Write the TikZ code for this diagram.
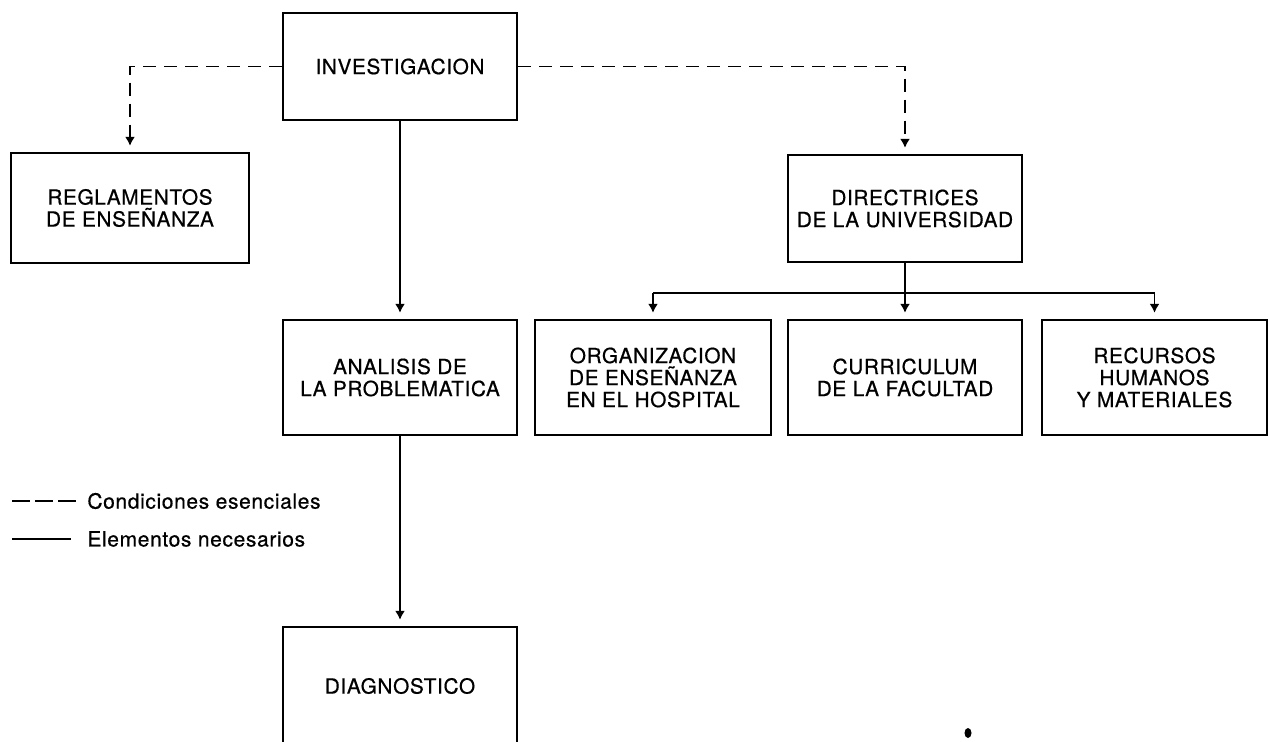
\documentclass[tikz,border=0pt]{standalone}
\usepackage{fontspec}
\setmainfont{TeX Gyre Heros}[LetterSpace=3,FakeBold=0.6]
\usetikzlibrary{arrows.meta}
\begin{document}
\begin{tikzpicture}[x=0.5pt,y=-0.5pt,
  box/.style={draw,line width=1.15pt,inner sep=0pt,align=center,
    font=\fontsize{10.4}{11}\selectfont},
  link/.style={line width=0.95pt},
  solidlink/.style={link,-{Latex[length=4.5pt,width=5pt]},shorten >=3pt},
  dashlink/.style={solidlink,dash pattern=on 6.5pt off 4pt},
  legend/.style={anchor=west,inner sep=0pt,font=\fontsize{10.5}{12}\selectfont}]
\useasboundingbox (0,0) rectangle (1269,742);
\clip (0,0) rectangle (1269,742);

% boxes
\node[box,minimum width=117pt,minimum height=53.5pt] (inv) at (400,66.5) {INVESTIGACION};
\node[box,minimum width=119pt,minimum height=55pt] (reg) at (130,208) {REGLAMENTOS\\DE ENSEÑANZA};
\node[box,minimum width=117pt,minimum height=53.5pt] (dir) at (905,208.5) {DIRECTRICES\\DE LA UNIVERSIDAD};
\node[box,minimum width=117pt,minimum height=57.5pt] (ana) at (400,377.5) {ANALISIS DE\\LA PROBLEMATICA};
\node[box,minimum width=118pt,minimum height=57.5pt] (org) at (653,377.5) {ORGANIZACION\\DE ENSEÑANZA\\EN EL HOSPITAL};
\node[box,minimum width=117pt,minimum height=57.5pt] (cur) at (905,377.5) {CURRICULUM\\DE LA FACULTAD};
\node[box,minimum width=112.5pt,minimum height=57.5pt] (rec) at (1154.5,377.5) {RECURSOS\\HUMANOS\\Y MATERIALES};
\node[box,minimum width=117pt,minimum height=59pt] (diag) at (400,686) {DIAGNOSTICO};

% essential conditions (dashed)
\draw[dashlink] (inv.west) -| (reg.north);
\draw[dashlink] (inv.east) -| (dir.north);

% necessary elements (solid)
\draw[solidlink] (inv.south) -- (ana.north);
\draw[solidlink] (ana.south) -- (diag.north);
\path (dir.south) ++(0,30) coordinate (br);
\draw[solidlink] (dir.south) -- (cur.north);
\draw[link] (br -| org.north) -- (br -| rec.north);
\draw[solidlink] (br -| org.north) -- (org.north);
\draw[solidlink] (br -| rec.north) -- (rec.north);

% legend
\node[legend] (leg1) at (87,501) {Condiciones esenciales};
\node[legend] (leg2) at (87,539) {Elementos necesarios};
\draw[link,dash pattern=on 9pt off 2.5pt] ([xshift=-37.5pt]leg1.west) -- ([xshift=-5.5pt]leg1.west);
\draw[link,line width=0.7pt] ([xshift=-37.5pt]leg2.west) -- ([xshift=-8pt]leg2.west);

% small ink mark
\fill (968,733) ellipse (3.5 and 5);
\end{tikzpicture}
\end{document}
